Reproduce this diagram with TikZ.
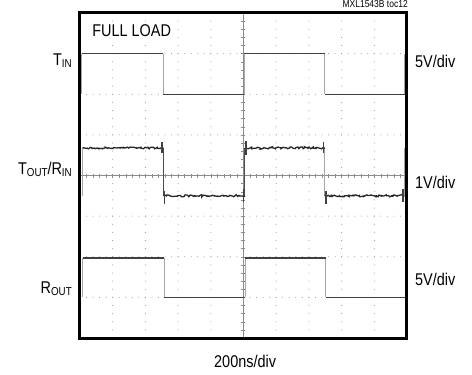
\documentclass[tikz,border=0pt]{standalone}
\usepackage{fontspec}
\setmainfont{Liberation Sans}[FakeStretch=0.85]
\usetikzlibrary{decorations.pathmorphing}
\colorlet{tracegray}{black!75}
\colorlet{flankgray}{black!35}
\colorlet{dotgray}{black!45}
\tikzstyle{wave}=[draw=tracegray,line width=1.1pt]
\tikzstyle{flank}=[draw=flankgray,line width=0.9pt]
\tikzstyle{noisy}=[draw=black!85,line width=1.3pt,decorate,
  decoration={random steps,segment length=1.3pt,amplitude=1pt}]
\tikzstyle{lbl}=[inner sep=0pt,font=\fontsize{17}{17}\selectfont]
\newcommand{\lowsub}[1]{\raisebox{-0.12em}{\fontsize{11.5}{11.5}\selectfont #1}}

\begin{document}
\begin{tikzpicture}[x=32.7pt,y=40.625pt]
  \useasboundingbox (-2.446,-0.886) rectangle (11.988,8.320);

  % dotted graticule
  \foreach \j in {1,2,3,5,6,7}
    \foreach \k in {0,...,50}
      \fill[dotgray] (\k/5,\j) circle (0.5pt);
  \foreach \i in {1,2,3,4,6,7,8,9}
    \foreach \k in {0,...,40}
      \fill[dotgray] (\i,\k/5) circle (0.5pt);
  % centre axes
  \draw[dotgray,line width=0.4pt] (0,4) -- (10,4) (5,0) -- (5,8);
  \foreach \k in {1,...,49}
    \draw[dotgray,line width=0.5pt] (\k/5,4) ++(0pt,-2pt) -- ++(0pt,4pt);
  \foreach \k in {1,...,39}
    \draw[dotgray,line width=0.5pt] (5,\k/5) ++(-2pt,0pt) -- ++(4pt,0pt);

  % T_IN
  \draw[flank] (0.06,6) -- (0.06,7) (2.54,7) -- (2.54,6) (5.02,6) -- (5.02,7)
    (7.48,7) -- (7.48,6) (9.93,6) -- (9.93,7);
  \draw[wave] (0.06,7) -- (2.54,7) (2.54,6) -- (5.02,6) (5.02,7) -- (7.48,7)
    (7.48,6) -- (9.93,6) (9.93,7) -- (10,7);

  % T_OUT/R_IN
  \draw[flank] (0.08,3.5) -- (0.08,4.68) (7.49,4.68) -- (7.49,3.5) (9.92,3.5) -- (9.92,4.68);
  \draw[wave,draw=black!70] (2.55,4.68) -- (2.55,3.5) (5.04,3.5) -- (5.04,4.68);
  \draw[noisy] (0.08,4.68) -- (2.55,4.68);
  \draw[noisy] (2.55,3.5) -- (5.04,3.5);
  \draw[noisy] (5.04,4.68) -- (7.49,4.68);
  \draw[noisy] (7.49,3.5) -- (9.92,3.5);
  \foreach \x in {2.55,7.49}
    \draw[wave,line width=1.6pt] (\x-0.04,4.56) -- (\x-0.04,4.82) (\x+0.04,3.3) -- (\x+0.04,3.62);
  \foreach \x in {5.04,9.92}
    \draw[wave,line width=1.6pt] (\x-0.04,3.36) -- (\x-0.04,3.66) (\x+0.04,4.5) -- (\x+0.04,4.86);

  % R_OUT
  \draw[flank] (0.09,1) -- (0.09,1.97) (2.57,1.97) -- (2.57,1) (5.05,1) -- (5.05,1.97)
    (7.52,1.97) -- (7.52,1);
  \draw[wave] (0.09,1.97) -- (2.57,1.97) (2.57,1) -- (5.05,1) (5.05,1.97) -- (7.52,1.97)
    (7.52,1) -- (10,1);

  \draw[line width=3pt] (0,0) rectangle (10,8);

  \node[lbl,anchor=west,fill=white,inner sep=1pt] (load) at (0.34,7.56) {FULL LOAD};
  \node[inner sep=0pt,anchor=east,font=\fontsize{10}{10}\selectfont] (part) at (10.03,8.21) {MXL1543B toc12};
  \node[lbl,anchor=east] (tin) at (-0.245,6.82) {T\lowsub{IN}};
  \node[lbl,anchor=east] (toutrin) at (-0.245,4.14) {T\lowsub{OUT}/R\lowsub{IN}};
  \node[lbl,anchor=east] (rout) at (-0.245,1.21) {R\lowsub{OUT}};
  \node[lbl,anchor=west] (tinscale) at (10.245,6.82) {5V/div};
  \node[lbl,anchor=west] (toutscale) at (10.245,3.82) {1V/div};
  \node[lbl,anchor=west] (routscale) at (10.245,1.45) {5V/div};
  \node[lbl] (timebase) at (5.05,-0.566) {200ns/div};
\end{tikzpicture}
\end{document}
